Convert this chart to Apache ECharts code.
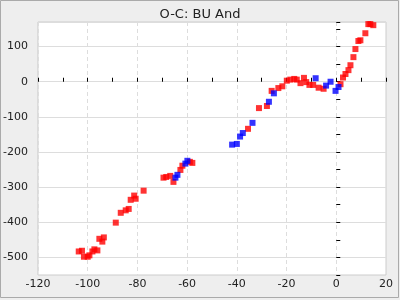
<!DOCTYPE html>
<html><head><meta charset="utf-8">
<script src="https://cdn.jsdelivr.net/npm/echarts@6/dist/echarts.min.js"></script>
<style>html,body{margin:0;padding:0;background:#eeeeee}#c{width:400px;height:300px}</style>
</head><body><div id="c"></div>
<script>
const titleText = 'O-C: BU And';
const redX = [-103.6,-102.3,-101.5,-100,-99.3,-98.1,-97.3,-96.1,-95.3,-94.1,-93.5,-88.7,-86.7,-84.7,-83.5,-82.7,-81.3,-80.7,-77.5,-69.5,-68.4,-66.8,-65.5,-62.7,-61.9,-58.9,-57.9,-35.5,-31.1,-27.9,-26,-23.3,-21.7,-19.9,-18.5,-16.9,-15.9,-14.4,-13,-12.1,-10.8,-9.3,-7.1,-5.1,1.7,2.7,3.7,4.9,5.7,6.9,7.7,8.9,9.7,11.7,12.9,13.7,14.9];
const redY = [-483,-481,-498,-498,-494,-483,-477,-480,-447,-455,-443,-401,-373,-366,-362,-336,-324,-333,-310,-273,-271,-268,-285,-251,-239,-228,-231,-134,-75,-69,-26,-18,-13,3,6,8,6,-4,11,-1,-9,-9,-17,-20,-7,12,22,33,47,70,93,116,118,138,164,164,161];
const blueX = [-64.7,-63.9,-60.7,-59.9,-41.9,-40,-38.7,-37.6,-33.7,-27.1,-25.1,-8.3,-4.1,-2.3,-0.3,0.9];
const blueY = [-273,-265,-233,-225,-179,-177,-156,-146,-117,-57,-33,10,-11,0,-26,-15];
const xMin = -120, xMax = 20, xStep = 20;
const yMin = -550, yMax = 170, yStep = 50, yLabelStep = 100;

const zip = (a, b) => a.map((v, i) => [v, b[i]]);
const font = 'DejaVu Sans';
const chart = echarts.init(document.getElementById('c'), null, {renderer: 'canvas'});
chart.setOption({
  backgroundColor: '#eeeeee',
  animation: false,
  title: {text: titleText, left: 'center', top: 3,
    textStyle: {fontFamily: font, fontSize: 13, fontWeight: 'normal', color: '#222'}},
  grid: {left: 36, right: 14, top: 22, bottom: 25, show: true, backgroundColor: '#ffffff', borderColor: '#cccccc', borderWidth: 1},
  graphic: [{type: 'rect', shape: {x: 0.5, y: 0.5, width: 398, height: 297}, style: {fill: 'none', stroke: '#aaaaaa', lineWidth: 1}, silent: true}],
  xAxis: {type: 'value', min: xMin, max: xMax, interval: xStep,
    axisLine: {show: false},
    axisTick: {show: true, inside: true, length: 4, lineStyle: {color: '#000'}},
    minorTick: {show: true, splitNumber: 2, length: 4, lineStyle: {color: '#000'}},
    axisLabel: {fontFamily: font, fontSize: 11, color: '#222', margin: 4},
    splitLine: {show: true, lineStyle: {color: '#dddddd', type: [4, 3], width: 1}}},
  yAxis: {type: 'value', min: yMin, max: yMax, interval: yStep,
    axisLine: {show: false},
    axisTick: {show: true, inside: true, length: 4, lineStyle: {color: '#000'}},
    axisLabel: {fontFamily: font, fontSize: 11, color: '#222', margin: 10,
      formatter: v => (v % yLabelStep === 0 ? String(v) : '')},
    splitLine: {show: true, lineStyle: {color: ['transparent', '#dddddd'], width: 1}}},
  series: [
    {type: 'scatter', data: zip(redX, redY), symbol: 'rect', symbolSize: 6, itemStyle: {color: '#ff0000'}},
    {type: 'scatter', data: zip(blueX, blueY), symbol: 'rect', symbolSize: 6, itemStyle: {color: '#0000ff'}}
  ]
});
</script></body></html>
